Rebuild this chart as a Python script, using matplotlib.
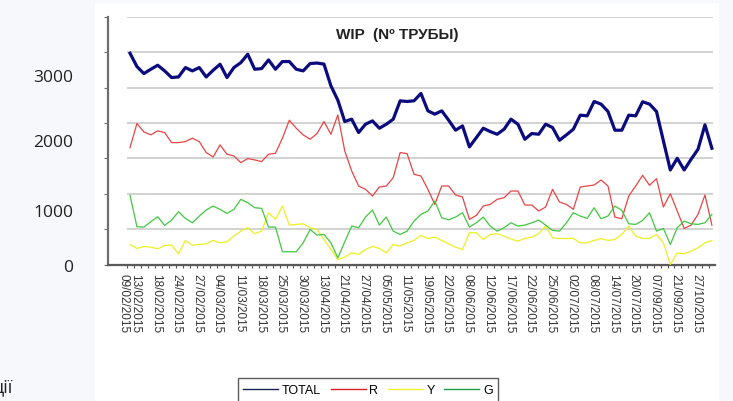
import numpy as np
import matplotlib
matplotlib.use("Agg")
import matplotlib.pyplot as plt
from matplotlib.patches import Rectangle
from matplotlib.lines import Line2D

# ── data ──
total = [2987, 2799, 2700, 2761, 2818, 2738, 2644, 2652, 2785, 2738, 2785, 2652, 2747, 2832,
         2644, 2785, 2855, 2973, 2761, 2771, 2893, 2761, 2870, 2870, 2761, 2738, 2842,
         2849, 2834, 2527, 2324, 2022, 2055, 1866, 1984, 2031, 1927, 1984, 2055, 2315, 2305,
         2315, 2419, 2173, 2126, 2173, 2041, 1899, 1960, 1663, 1795, 1927, 1880, 1842, 1913, 2055,
         1984, 1771, 1852, 1842, 1984, 1937, 1757, 1833, 1913, 2112, 2102, 2305, 2268, 2164,
         1899, 1899, 2112, 2102, 2301, 2268, 2164, 1748, 1337, 1502, 1337, 1488, 1630, 1975, 1644]
red = [1653, 1994, 1875, 1833, 1890, 1866, 1724, 1724, 1738, 1786, 1738, 1583, 1521, 1691,
       1559, 1535, 1441, 1498, 1479, 1455, 1559, 1573, 1786, 2041, 1927, 1833, 1771,
       1852, 2022, 1842, 2116, 1606, 1323, 1110, 1063, 968, 1096, 1110, 1228, 1583, 1568,
       1275, 1252, 1063, 850, 1110, 1110, 983, 954, 638, 694, 827, 850, 921, 945, 1039,
       1039, 841, 841, 756, 813, 1063, 883, 850, 780, 1096, 1110, 1124, 1195, 1110,
       671, 647, 968, 1110, 1261, 1120, 1214, 813, 1001, 756, 510, 557, 709, 983, 557]
yellow = [283, 227, 255, 246, 222, 269, 274, 151, 340, 274, 283, 293, 340, 307,
          321, 402, 472, 520, 435, 472, 732, 638, 827, 557, 567, 576, 520,
          496, 354, 213, 71, 104, 165, 142, 213, 255, 227, 165, 283, 260, 307,
          340, 411, 368, 387, 340, 293, 246, 213, 449, 449, 354, 425, 435, 402, 360,
          331, 368, 387, 435, 543, 378, 368, 368, 368, 307, 307, 340, 368, 340,
          354, 425, 543, 402, 368, 368, 425, 307, 0, 165, 151, 189, 236, 307, 340]
green = [978, 534, 529, 605, 675, 553, 628, 746, 652, 590, 685, 770, 827, 779,
         723, 779, 921, 874, 803, 794, 529, 529, 180, 180, 180, 307, 495,
         416, 425, 307, 94, 321, 543, 520, 671, 770, 557, 671, 472, 425, 472,
         614, 709, 756, 898, 661, 633, 671, 732, 529, 590, 671, 543, 472, 520, 590,
         543, 557, 590, 628, 557, 482, 472, 590, 732, 685, 652, 803, 647, 685,
         827, 765, 576, 567, 624, 732, 472, 510, 283, 520, 614, 576, 567, 590, 709]

date_labels = ["09/02/2015", "13/02/2015", "18/02/2015", "24/02/2015", "27/02/2015",
               "04/03/2015", "11/03/2015", "18/03/2015", "25/03/2015", "30/03/2015",
               "13/04/2015", "21/04/2015", "27/04/2015", "05/05/2015", "11/05/2015",
               "19/05/2015", "22/05/2015", "08/06/2015", "12/06/2015", "17/06/2015",
               "22/06/2015", "25/06/2015", "02/07/2015", "08/07/2015", "14/07/2015",
               "20/07/2015", "07/09/2015", "21/09/2015", "27/10/2015"]
slide_labels = ["3000", "2000", "1000", "0"]

W, H = 733, 402
BG = "#f6f8fb"

fig = plt.figure(figsize=(W / 100, H / 100), dpi=100, facecolor=BG)

# white chart image on the slide
fig.patches.append(Rectangle((95 / W, 0), 624 / W, 1 - 4 / H, transform=fig.transFigure,
                             facecolor="white", edgecolor="none", zorder=-10))

ax = fig.add_axes([107.5 / W, 1 - 265.5 / H, 607.5 / W, 247.5 / H])
ax.set_facecolor("white")

n = len(total)
x = np.arange(n)
grid_levels = np.arange(500, 3501, 500)
ax.hlines(grid_levels, -0.4, n - 0.9, color="#cfcfcf", lw=1.3, zorder=1)

ax.plot(x, red, color="#e64545", lw=0.9, zorder=3)
ax.plot(x, yellow, color="#eeee22", lw=0.9, zorder=3)
ax.plot(x, green, color="#40c840", lw=0.9, zorder=3)
ax.plot(x, total, color="#0b0b7e", lw=2.3, zorder=4)

ax.set_xlim(-3.25, n - 0.55)
ax.set_ylim(0, 3500)

for s in ["top", "right"]:
    ax.spines[s].set_visible(False)
ax.spines["left"].set_color("#6e6e6e")
ax.spines["left"].set_linewidth(1.6)
ax.spines["bottom"].set_color("#5a5a5a")
ax.spines["bottom"].set_linewidth(1.6)

ax.set_yticks(np.arange(0, 3501, 500))
ax.set_yticklabels([])
ax.tick_params(axis="y", length=3, width=0.8, color="#6e6e6e")

# every third day is labelled; the first label sits a bit left of the first point
label_pos = [-0.9] + [k - 0.3 for k in range(1, 1 + 3 * (len(date_labels) - 1), 3)]
ax.set_xticks(label_pos)
ax.set_xticklabels(date_labels, rotation=-90, fontsize=8.5, color="#333333",
                   family="Liberation Sans")
ax.set_xticks(np.arange(n) - 0.4, minor=True)
ax.tick_params(axis="x", which="major", length=0, pad=6)
ax.tick_params(axis="x", which="minor", length=2, width=0.8, color="#555555")

fig.text(397 / W, 1 - 35 / H, "WIP  (Nº ТРУБЫ)", ha="center", va="center",
         fontsize=11, fontweight="bold", family="Liberation Sans", color="#222222")

# labels of the slide around the picture
for lab, yp in zip(slide_labels, [78, 143, 213, 268]):
    fig.text(73 / W, 1 - yp / H, lab, ha="right", va="center", fontsize=12.5,
             family="Open Sans", color="#222222")
fig.text(-8 / W, 1 - 392 / H, "ції", ha="left", va="baseline", fontsize=13,
         family="Open Sans", color="#222222")

handles = [Line2D([], [], color="#1a2456", lw=1.0),
           Line2D([], [], color="#e02020", lw=1.0),
           Line2D([], [], color="#f2ee30", lw=1.0),
           Line2D([], [], color="#1f9a4a", lw=1.0)]
leg = fig.legend(handles, ["TOTAL", "R", "Y", "G"], loc="center",
                 bbox_to_anchor=(368 / W, 1 - 391 / H), ncol=4, frameon=True,
                 fancybox=False, edgecolor="#333333",
                 handlelength=2.8, handletextpad=0.3, columnspacing=0.75,
                 borderpad=0.45, prop={"family": "Liberation Sans", "size": 9})
leg.get_frame().set_linewidth(1.0)

fig.savefig("out.png", dpi=100, facecolor=BG)
